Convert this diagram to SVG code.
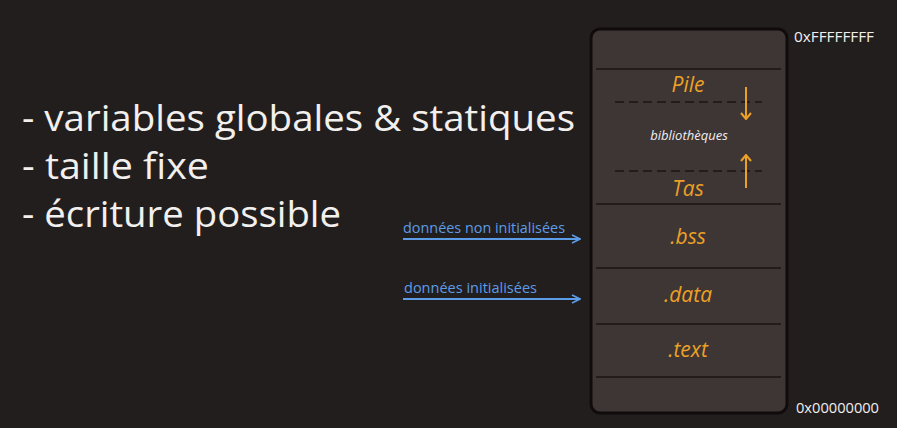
<svg xmlns="http://www.w3.org/2000/svg" width="897" height="428" viewBox="0 0 897 428">
  <defs>
    <marker id="blueHead" viewBox="0 0 10 10" refX="9" refY="5" markerWidth="10" markerHeight="10" markerUnits="userSpaceOnUse" orient="auto">
      <path d="M1,1 L9,5 L1,9" fill="none" stroke="#5c9ce6" stroke-width="1.6"/>
    </marker>
    <marker id="orangeHead" viewBox="0 0 12 12" refX="11" refY="6" markerWidth="12" markerHeight="12" markerUnits="userSpaceOnUse" orient="auto">
      <path d="M5,1 L11,6 L5,11" fill="none" stroke="#eca126" stroke-width="2"/>
    </marker>
  </defs>
  <style>
    .bullet { font-family: "Open Sans", "Liberation Sans", sans-serif; font-size: 37px; fill: #f2f0ef; }
    .seg { font-family: "Open Sans", "Liberation Sans", sans-serif; font-style: italic; font-size: 21px; fill: #eca126; text-anchor: middle; }
    .lib { font-family: "Open Sans", "Liberation Sans", sans-serif; font-style: italic; font-size: 13px; fill: #f0eeee; text-anchor: middle; }
    .addr { font-family: "Open Sans", "Liberation Sans", sans-serif; font-size: 14.5px; fill: #f0eeee; }
    .note { font-family: "Open Sans", "Liberation Sans", sans-serif; font-size: 14px; fill: #5c9ce6; }
    .divider { stroke: #221c1c; stroke-width: 2; }
    .dash { stroke: #221c1c; stroke-width: 2; stroke-dasharray: 9 5; }
    .pointer { stroke: #5c9ce6; stroke-width: 2; fill: none; }
    .grow { stroke: #eca126; stroke-width: 2; fill: none; }
  </style>

  <rect width="897" height="428" fill="#231e1e"/>

  <!-- bullet list -->
  <g id="bullets">
    <text class="bullet" x="22" y="131" textLength="553" lengthAdjust="spacingAndGlyphs">- variables globales &amp; statiques</text>
    <text class="bullet" x="22" y="179" textLength="187" lengthAdjust="spacingAndGlyphs">- taille fixe</text>
    <text class="bullet" x="22" y="227" textLength="319" lengthAdjust="spacingAndGlyphs">- écriture possible</text>
  </g>

  <!-- memory layout -->
  <g id="memory">
    <rect x="591" y="29" width="196" height="384" rx="9" fill="#3e3535" stroke="#100c0c" stroke-width="3"/>
    <line class="divider" x1="596" y1="69" x2="781" y2="69"/>
    <line class="divider" x1="596" y1="204" x2="781" y2="204"/>
    <line class="divider" x1="596" y1="268" x2="781" y2="268"/>
    <line class="divider" x1="596" y1="324" x2="781" y2="324"/>
    <line class="divider" x1="596" y1="377" x2="781" y2="377"/>
  </g>

  <g id="pile">
    <text class="seg" x="688" y="92">Pile</text>
    <line class="dash" x1="615" y1="102" x2="762" y2="102"/>
    <line class="grow" x1="746" y1="87" x2="746" y2="119" marker-end="url(#orangeHead)"/>
  </g>
  <g id="bibliotheques">
    <text class="lib" x="689" y="140">bibliothèques</text>
  </g>
  <g id="tas">
    <line class="dash" x1="615" y1="171" x2="762" y2="171"/>
    <line class="grow" x1="746" y1="188" x2="746" y2="155" marker-end="url(#orangeHead)"/>
    <text class="seg" x="688" y="196">Tas</text>
  </g>
  <g id="bss">
    <text class="seg" x="688" y="244">.bss</text>
  </g>
  <g id="data">
    <text class="seg" x="688" y="302">.data</text>
  </g>
  <g id="text-seg">
    <text class="seg" x="688" y="357">.text</text>
  </g>

  <g id="addresses">
    <text class="addr" x="794" y="42" textLength="80" lengthAdjust="spacingAndGlyphs">0xFFFFFFFF</text>
    <text class="addr" x="796" y="413" textLength="83" lengthAdjust="spacingAndGlyphs">0x00000000</text>
  </g>

  <!-- pointers into the segments -->
  <g id="connectors">
    <text class="note" x="403" y="233" textLength="162" lengthAdjust="spacingAndGlyphs">données non initialisées</text>
    <line class="pointer" x1="403" y1="239" x2="580" y2="239" marker-end="url(#blueHead)"/>
    <text class="note" x="404" y="293" textLength="133" lengthAdjust="spacingAndGlyphs">données initialisées</text>
    <line class="pointer" x1="403" y1="299" x2="580" y2="299" marker-end="url(#blueHead)"/>
  </g>
</svg>
